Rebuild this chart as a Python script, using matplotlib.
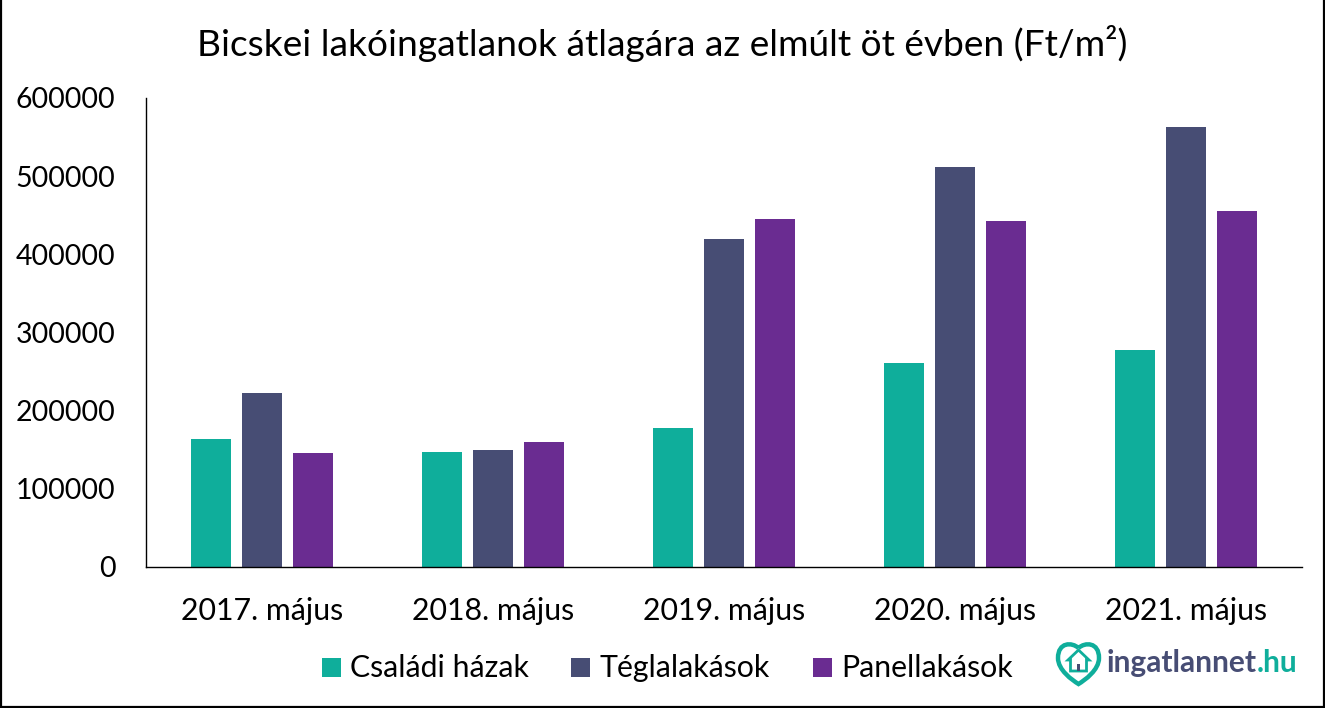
import numpy as np
import matplotlib
matplotlib.use('Agg')
import matplotlib.pyplot as plt
from matplotlib.lines import Line2D
from matplotlib.patches import PathPatch, Rectangle, Polygon
from matplotlib.path import Path

# data
years = ['2017. május', '2018. május', '2019. május', '2020. május', '2021. május']
csaladi = [163000, 146000, 177000, 260000, 277000]
tegla = [222000, 149000, 419000, 512000, 563000]
panel = [145000, 159000, 445000, 442000, 455000]
series_names = ['Családi házak', 'Téglalakások', 'Panellakások']
yticks = [0, 100000, 200000, 300000, 400000, 500000, 600000]

W, H = 1325, 708
GREEN = '#0fae9b'
BLUE = '#474d74'
PURPLE = '#6a2c91'

plt.rcParams['font.family'] = ['Lato', 'DejaVu Sans']

fig = plt.figure(figsize=(W / 100, H / 100), dpi=100)
ax = fig.add_axes([146 / W, 1 - 566.5 / H, (1302 - 146) / W, 468.5 / H])

x = np.arange(len(years))
width = 0.175
step = 0.2208
ax.bar(x - step, csaladi, width, color=GREEN)
ax.bar(x, tegla, width, color=BLUE)
ax.bar(x + step, panel, width, color=PURPLE)

ax.set_xlim(-0.502, 4.502)
ax.set_ylim(0, 600000)
ax.set_xticks(x)
ax.set_xticklabels(years)
ax.set_yticks(yticks)
ax.tick_params(axis='x', length=0, labelsize=21.8, pad=22)
ax.tick_params(axis='y', length=0, labelsize=20.5, pad=22)
for s in ['top', 'right']:
    ax.spines[s].set_visible(False)
for s in ['left', 'bottom']:
    ax.spines[s].set_linewidth(1.0)
    ax.spines[s].set_color('black')


# helper: figure position from pixels, y from the top
def px(xp, yp):
    return xp / W, 1 - yp / H


fig.text(*px(662, 44), 'Bicskei lakóingatlanok átlagára az elmúlt öt évben (Ft/m²)',
         ha='center', va='center', fontsize=26.7, color='black')

# legend
for xp, col, name in zip([322, 571, 813], [GREEN, BLUE, PURPLE], series_names):
    fig.add_artist(Rectangle(px(xp, 677), 19 / W, 19 / H, transform=fig.transFigure,
                             color=col, lw=0))
    fig.text(*px(xp + 28, 677), name, ha='left', va='baseline', fontsize=21.8, color='black')

# frame: left, bottom and right only, the reference has no top line
for xs, ys in [((1, 1), (0, 707)), ((1, 1324), (707, 707)), ((1324, 1324), (0, 707))]:
    fig.add_artist(Line2D([a / W for a in xs], [1 - b / H for b in ys],
                          transform=fig.transFigure, color='black', lw=1.6))

# logo: heart outline with a small house
heart = [(1078.5, 648), (1072, 642), (1058, 642), (1058, 658), (1058, 670), (1072, 680),
         (1078.5, 684), (1085, 680), (1099, 670), (1099, 658), (1099, 642), (1085, 642),
         (1078.5, 648)]
codes = [Path.MOVETO] + [Path.CURVE4] * 12
fig.add_artist(PathPatch(Path([px(a, b) for a, b in heart], codes), transform=fig.transFigure,
                         fill=False, ec=GREEN, lw=3.2))
house = [(1068, 660), (1078.5, 650), (1089, 660), (1086.5, 660), (1086.5, 671),
         (1070.5, 671), (1070.5, 660)]
fig.add_artist(Polygon([px(a, b) for a, b in house], closed=True, transform=fig.transFigure,
                       fill=False, ec=GREEN, lw=2))
fig.add_artist(Rectangle(px(1077, 671), 3 / W, 7 / H, transform=fig.transFigure, color=BLUE, lw=0))

t1 = fig.text(*px(1107, 672), 'ingatlannet', ha='left', va='baseline', fontsize=21.5,
              fontweight='bold', color=BLUE)
fig.canvas.draw()
bb = t1.get_window_extent()
fig.text(bb.x1 / W, 1 - 672 / H, '.hu', ha='left', va='baseline', fontsize=21.5,
         fontweight='bold', color=GREEN)

fig.savefig('out.png', dpi=100)
